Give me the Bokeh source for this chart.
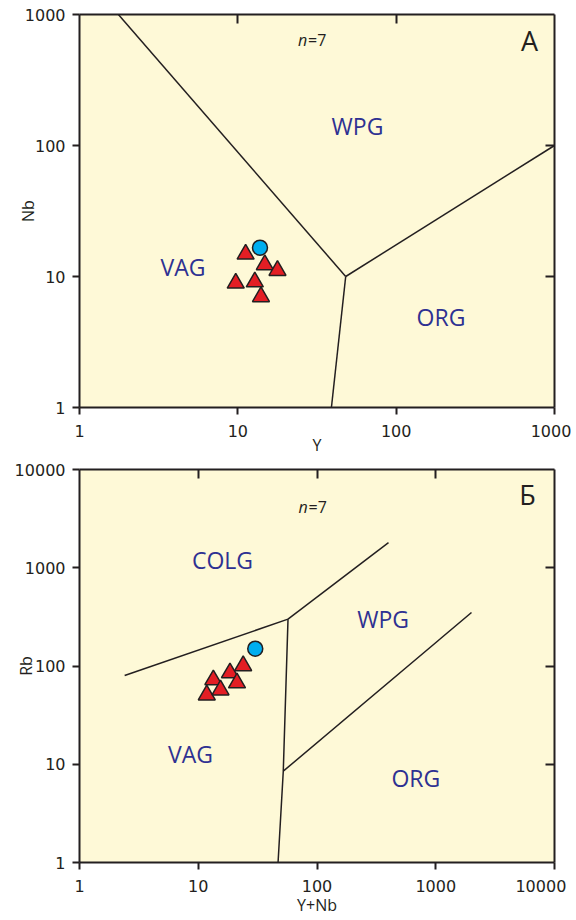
from bokeh.plotting import figure
from bokeh.models import Range1d, LogAxis, FixedTicker, Label, CustomJSTickFormatter
from bokeh.layouts import column
from bokeh.embed import file_html
from bokeh.resources import INLINE

# ---------------- data: panel A (Nb vs Y) ----------------
A_tri_Y = [11.2, 14.8, 17.8, 9.7, 12.8, 14.0]
A_tri_Nb = [14.8, 12.3, 11.1, 8.9, 9.1, 7.0]
A_circ_Y = [13.8]
A_circ_Nb = [16.6]
A_bound_Y = [[1.76, 48], [48, 1000], [48, 39]]
A_bound_Nb = [[1000, 10], [10, 100], [10, 1]]
A_ticks = [1, 10, 100, 1000]

# ---------------- data: panel B (Rb vs Y+Nb) ----------------
B_tri_YNb = [11.8, 13.4, 15.4, 18.5, 21.2, 23.9]
B_tri_Rb = [50.7, 72.3, 57.0, 85.2, 67.3, 100.5]
B_circ_YNb = [30.2]
B_circ_Rb = [150]
B_bound_YNb = [[2.4, 57], [57, 400], [57, 52, 47], [52, 2000]]
B_bound_Rb = [[80, 300], [300, 1800], [300, 8.5, 1], [8.5, 350]]
B_ticks = [1, 10, 100, 1000, 10000]

BG = "#FEF9D7"
INK = "#231F20"
BLUE = "#2E3192"
RED = "#E31E24"
CYAN = "#00AEEF"

X_FMT = """
var s = tick.toFixed(0);
if (tick > 9999) { return s + "\\u00a0\\u00a0"; }
if (tick > 999 && axis_max < 1001) { return s + "\\u00a0"; }
return s;
"""
Y_FMT = "return tick.toFixed(0);"


def style_main_axis(ax, ticks, code, axis_max, label, standoff):
    ax.ticker = FixedTicker(ticks=ticks)
    ax.formatter = CustomJSTickFormatter(args=dict(axis_max=axis_max), code=code)
    ax.axis_line_color = INK
    ax.axis_line_width = 2
    ax.major_tick_line_color = INK
    ax.major_tick_line_width = 2
    ax.major_tick_in = 0
    ax.major_tick_out = 7
    ax.minor_tick_line_color = None
    ax.major_label_text_font = "DejaVu Sans"
    ax.major_label_text_font_size = "16px"
    ax.major_label_text_color = INK
    ax.major_label_standoff = 7
    ax.axis_label = label
    ax.axis_label_text_font = "Open Sans"
    ax.axis_label_text_font_size = "16px"
    ax.axis_label_text_font_style = "normal"
    ax.axis_label_text_color = INK
    ax.axis_label_standoff = standoff


def inner_axis(ticks):
    ax = LogAxis(ticker=FixedTicker(ticks=ticks))
    ax.formatter = CustomJSTickFormatter(code="return '';")
    ax.axis_line_color = INK
    ax.axis_line_width = 2
    ax.major_tick_line_color = INK
    ax.major_tick_line_width = 2
    ax.major_tick_in = 9
    ax.major_tick_out = 0
    ax.minor_tick_line_color = None
    ax.major_label_standoff = 0
    ax.major_label_text_font_size = "1px"
    return ax


def region(p, x, y, text):
    p.add_layout(Label(x=x, y=y, text=text, text_font="Open Sans",
                       text_font_size="23px", text_color=BLUE,
                       text_align="center", text_baseline="middle"))


def n_label(p, x, y):
    p.add_layout(Label(x=x, y=y, text="n", text_font="Open Sans",
                       text_font_style="italic", text_font_size="16px",
                       text_color=INK, text_align="left", text_baseline="middle"))
    p.add_layout(Label(x=x, y=y, x_offset=10, text="=7", text_font="Open Sans",
                       text_font_size="16px", text_color=INK,
                       text_align="left", text_baseline="middle"))


def letter(p, x, y, text):
    p.add_layout(Label(x=x, y=y, text=text, text_font="Open Sans",
                       text_font_size="27px", text_color=INK,
                       text_align="center", text_baseline="middle"))


def make_panel(xmax, ymax, height, top, bottom, ticks, inner_ticks,
               xlabel, ylabel, xstand, ystand):
    p = figure(width=576, height=height, x_axis_type="log", y_axis_type="log",
               x_range=Range1d(1, xmax), y_range=Range1d(1, ymax),
               output_backend="svg", toolbar_location=None,
               min_border_left=79, min_border_right=22,
               min_border_top=top, min_border_bottom=bottom)
    p.background_fill_color = BG
    p.border_fill_color = "white"
    p.outline_line_color = None
    p.xgrid.visible = False
    p.ygrid.visible = False
    style_main_axis(p.xaxis[0], ticks, X_FMT, xmax, xlabel, xstand)
    style_main_axis(p.yaxis[0], ticks, Y_FMT, ymax, ylabel, ystand)
    p.add_layout(inner_axis(inner_ticks), "above")
    p.add_layout(inner_axis(inner_ticks), "right")
    return p


# ---------------- panel A ----------------
pa = make_panel(1000, 1000, 459, 14, 52, A_ticks, [10, 100], "Y", "Nb", -10, -17)
pa.multi_line(xs=A_bound_Y, ys=A_bound_Nb, line_color=INK, line_width=1.5)
pa.scatter(A_tri_Y, A_tri_Nb, marker="triangle", size=17, fill_color=RED,
           line_color=INK, line_width=1.5)
pa.scatter(A_circ_Y, A_circ_Nb, marker="circle", size=15, fill_color=CYAN,
           line_color=INK, line_width=1.5)
region(pa, 4.5, 11.9, "VAG")
region(pa, 57, 142, "WPG")
region(pa, 192, 4.95, "ORG")
n_label(pa, 24, 634)
letter(pa, 696, 634, "А")

# ---------------- panel B ----------------
pb = make_panel(10000, 10000, 460, 10, 57, B_ticks, [10, 100, 1000], "Y+Nb", "Rb", -5, -25)
pb.multi_line(xs=B_bound_YNb, ys=B_bound_Rb, line_color=INK, line_width=1.5)
pb.scatter(B_tri_YNb, B_tri_Rb, marker="triangle", size=17, fill_color=RED,
           line_color=INK, line_width=1.5)
pb.scatter(B_circ_YNb, B_circ_Rb, marker="circle", size=15, fill_color=CYAN,
           line_color=INK, line_width=1.5)
region(pb, 16, 1200, "COLG")
region(pb, 360, 300, "WPG")
region(pb, 680, 7.3, "ORG")
region(pb, 8.6, 12.6, "VAG")
n_label(pb, 69.9, 4200)
letter(pb, 5930, 5570, "Б")

layout = column(pa, pb, spacing=0)
open("out.html", "w").write(file_html(layout, INLINE))
